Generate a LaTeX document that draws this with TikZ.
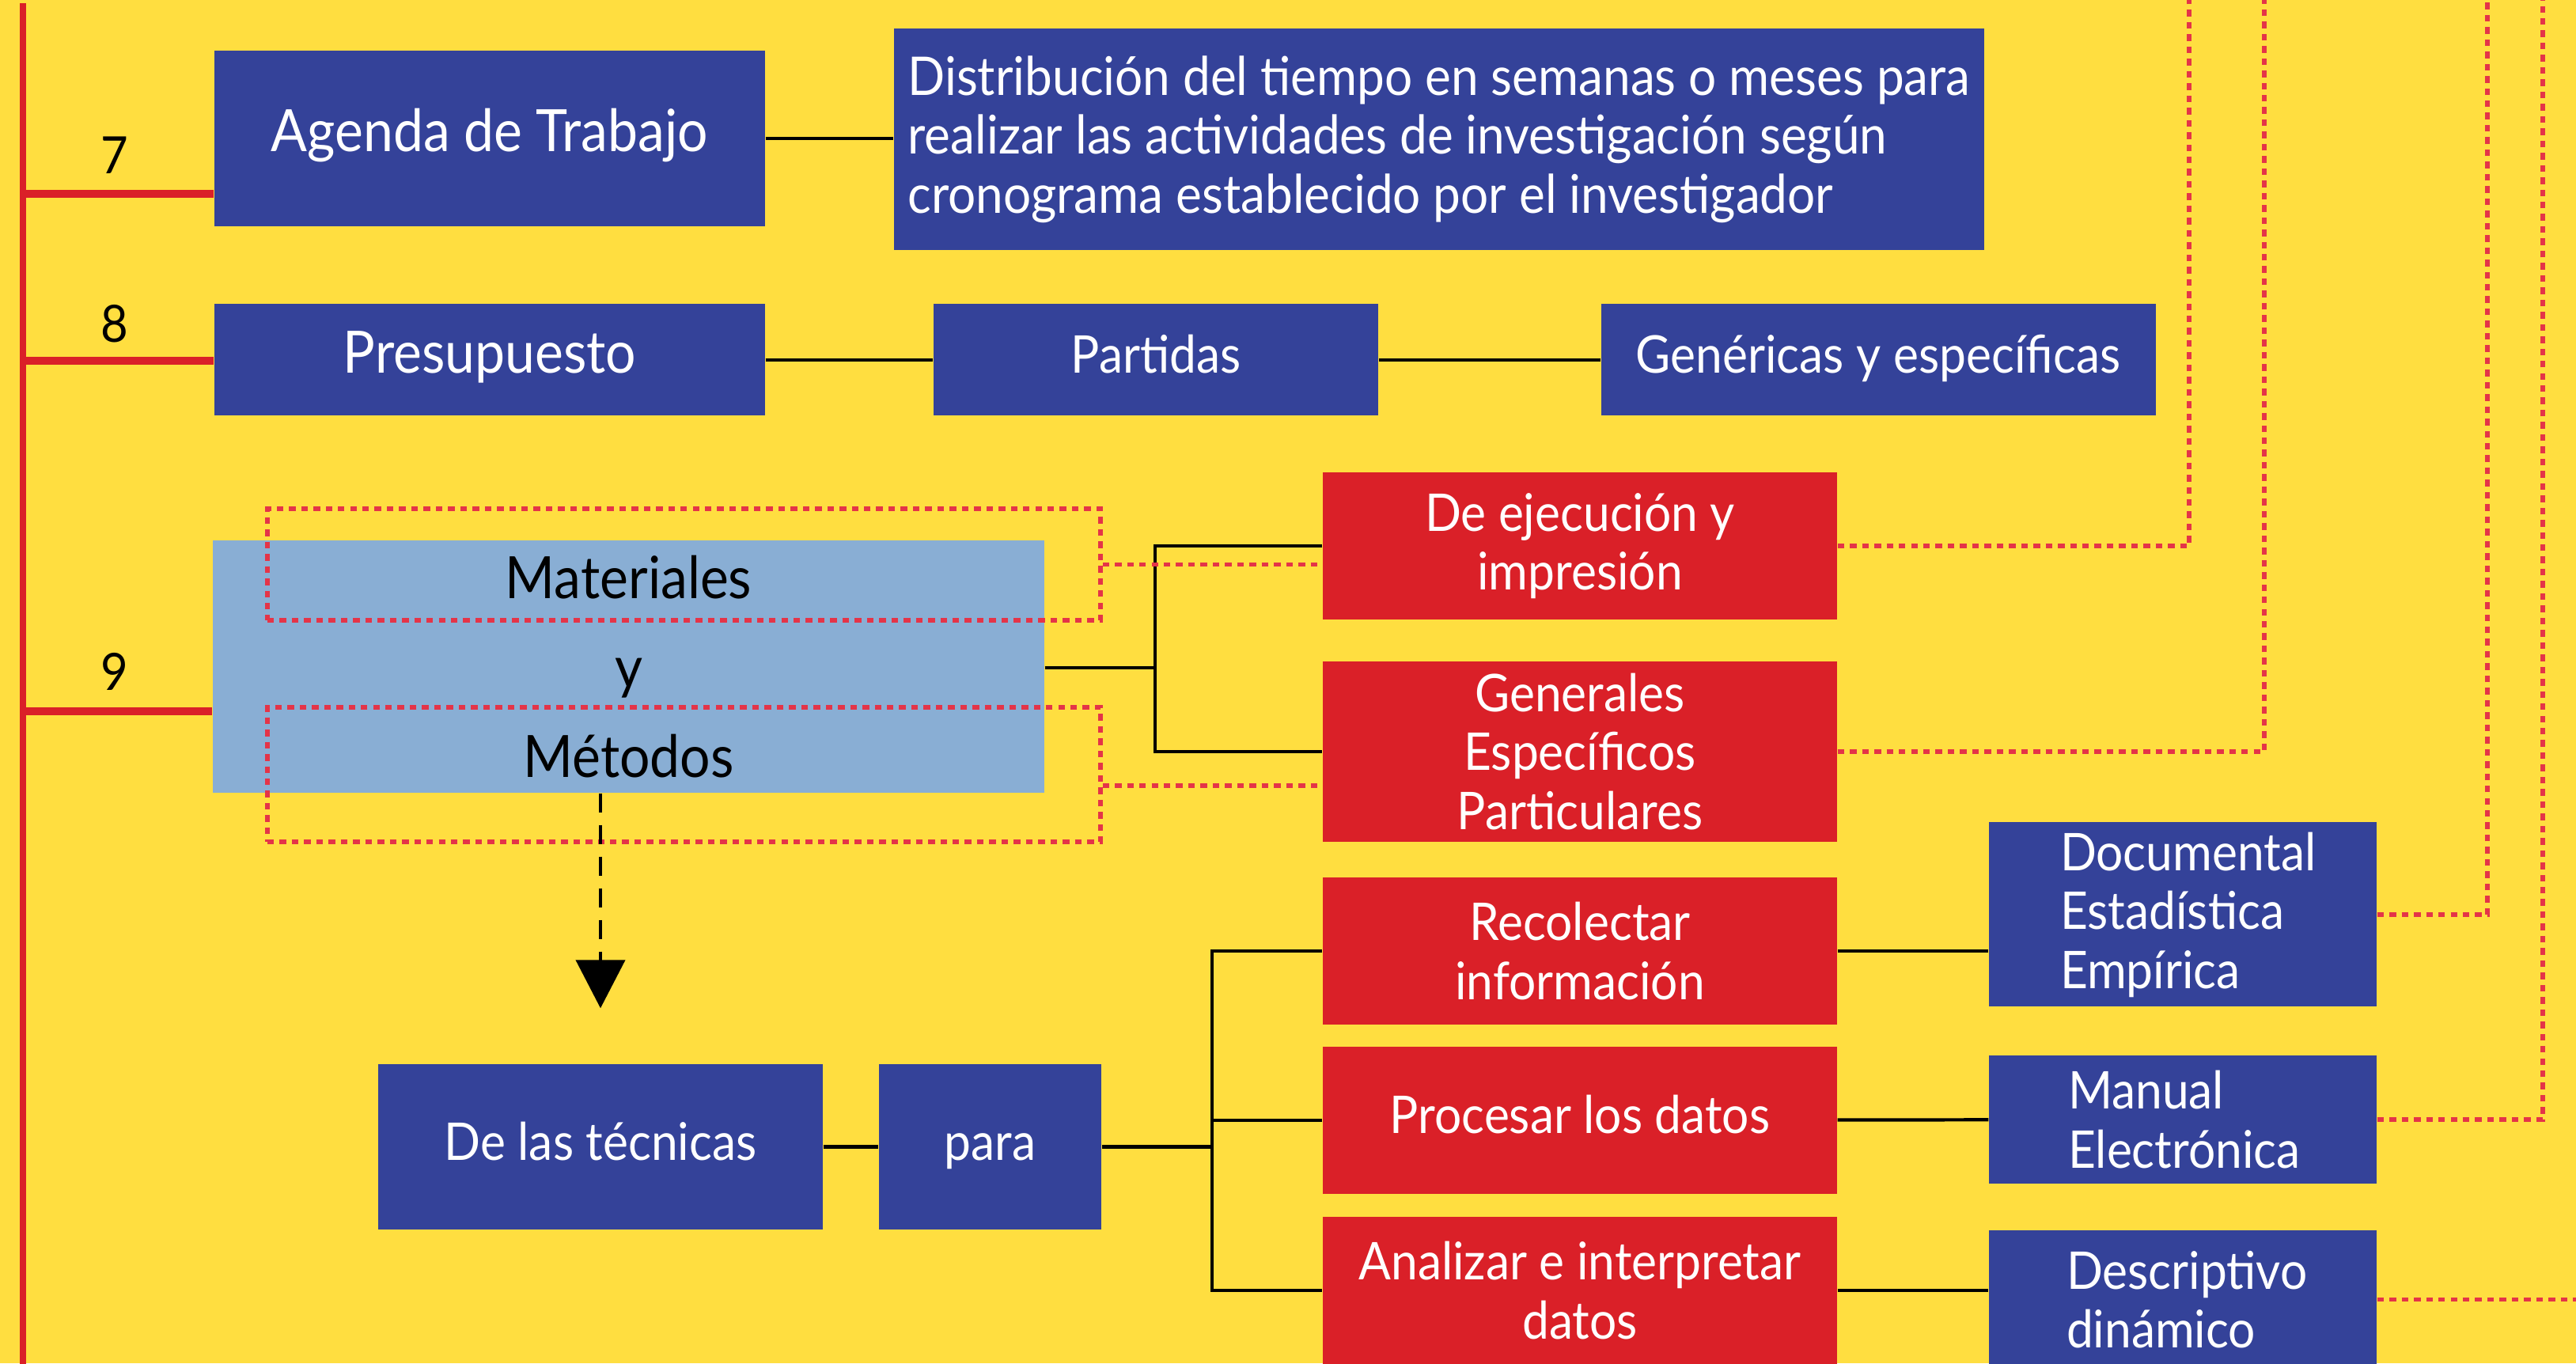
\documentclass[tikz,border=0pt]{standalone}
\usepackage{fontspec}
\setmainfont{Lato}[FakeStretch=0.92]
\usetikzlibrary{arrows.meta}

\definecolor{fondo}{RGB}{255,222,64}
\definecolor{azul}{RGB}{52,66,153}
\definecolor{rojo}{RGB}{218,32,40}
\definecolor{celeste}{RGB}{137,174,212}
\definecolor{rosa}{RGB}{228,52,72}

\begin{document}
\begin{tikzpicture}[
	caja/.style={inner sep=0pt, align=center, text=white, font=\fontsize{18.7}{21.2}\selectfont},
	azulbox/.style={caja, fill=azul},
	rojobox/.style={caja, fill=rojo},
	titulo/.style={caja, fill=azul, font=\fontsize{21}{25}\selectfont},
	unalinea/.style={text height=14pt, text depth=4.4pt},
	tam/.style 2 args={minimum width=#1cm, minimum height=#2cm},
	linea/.style={line width=1.2pt},
	puntos/.style={rosa, line width=1.5pt, dash pattern=on 2.4pt off 2pt},
	num/.style={font=\fontsize{18.5}{22}\selectfont}
	]
			\useasboundingbox (0,0) rectangle (32.56,17.23);
			\fill[fondo] (0,0) rectangle (32.56,17.23);
			\clip (0,0) rectangle (32.56,17.23);
			
			%%%filas 7 y 8
			\node[titulo, unalinea, tam={6.96}{2.22}] (agenda) at (6.19,15.48) {Agenda de Trabajo};
			\node[azulbox, tam={13.78}{2.80}, align=left, font=\fontsize{19.2}{21.2}\selectfont] (dist) at (18.19,15.47)
				{Distribución del tiempo en semanas o meses para\\realizar las actividades de investigación según\\cronograma establecido por el investigador};
			\node[titulo, unalinea, tam={6.96}{1.41}] (presu) at (6.19,12.68) {Presupuesto};
			\node[azulbox, unalinea, tam={5.62}{1.41}] (partidas) at (14.61,12.68) {Partidas};
			\node[azulbox, unalinea, tam={7.01}{1.41}] (genericas) at (23.74,12.68) {Genéricas y específicas};
			
			%%%fila 9
			\node[caja, fill=celeste, text=black, tam={10.51}{3.19}, font=\fontsize{21}{32.1}\selectfont] (matmet) at (7.945,8.805)
				{Materiales\\y\\Métodos};
			\node[draw, puntos, tam={10.53}{1.41}] (matbox) at (8.645,10.095) {};
			\node[draw, puntos, tam={10.53}{1.70}] (metbox) at (8.645,7.44) {};
			
			\node[rojobox, tam={6.50}{1.86}] (ejec) at (19.97,10.33) {De ejecución y\\impresión};
			\node[rojobox, tam={6.50}{2.28}] (gener) at (19.97,7.73) {Generales\\Específicos\\Particulares};
			\node[rojobox, tam={6.50}{1.86}] (recol) at (19.97,5.21) {Recolectar\\información};
			\node[rojobox, unalinea, tam={6.50}{1.86}] (proces) at (19.97,3.07) {Procesar los datos};
			\node[rojobox, tam={6.50}{1.86}] (analiz) at (19.97,0.92) {Analizar e interpretar\\datos};
			
			\node[azulbox, tam={4.90}{2.33}, align=left, text width=3.1cm] (docum) at (27.59,5.67) {Documental\\Estadística\\Empírica};
			\node[azulbox, tam={4.90}{1.62}, align=left, text width=2.9cm] (manual) at (27.59,3.08) {Manual\\Electrónica};
			\node[azulbox, tam={4.90}{1.75}, align=left, text width=2.94cm] (descr) at (27.59,0.805) {Descriptivo\\dinámico};
			
			\node[azulbox, unalinea, tam={5.62}{2.09}] (tecnicas) at (7.59,2.735) {De las técnicas};
			\node[azulbox, unalinea, tam={2.81}{2.09}] (para) at (12.515,2.735) {para};
			
			%%puntos libres
			\coordinate (j1) at (14.60,8.79);
			\coordinate (j2) at (15.32,2.735);
			\coordinate (s1) at (0.29,17.19);
			\coordinate (s2) at (0.29,-0.1);
			\coordinate (t1) at (27.67,17.5);
			\coordinate (t2) at (28.62,17.5);
			\coordinate (t3) at (31.44,17.5);
			\coordinate (t4) at (32.14,17.5);
			\coordinate (t5) at (32.7,0.805);
			
			%%lineas negras
			\draw[linea] (agenda.east) -- (agenda.east -| dist.west);
			\draw[linea] (presu) -- (partidas) -- (genericas);
			\draw[linea] (matmet.east |- j1) -- (j1);
			\draw[linea] (ejec.west) -| (j1 |- gener.west) -- (gener.west);
			\draw[linea] (tecnicas) -- (para);
			\draw[linea] (para.east) -- (j2);
			\draw[linea] (recol.west) -| (j2 |- analiz.west) -- (analiz.west);
			\draw[linea] (proces.west) -- (proces.west -| j2);
			\draw[linea] (recol.east) -- (recol.east -| docum.west);
			\draw[linea] (proces) -- (manual);
			\draw[linea] (analiz.east) -- (analiz.east -| descr.west);
			\draw[linea, dash pattern=on 0.24cm off 0.16cm, -{Triangle[length=0.61cm,width=0.62cm]}]
				(tecnicas.north |- matmet.south) -- ([yshift=0.7cm]tecnicas.north);
			
			%%punteadas
			\draw[puntos] (matbox.east) -- (matbox.east -| ejec.west);
			\draw[puntos] ([yshift=-0.14cm]metbox.east) -- ([yshift=-0.14cm]metbox.east -| gener.west);
			\draw[puntos] (ejec.east) -| (t1);
			\draw[puntos] (gener.east) -| (t2);
			\draw[puntos] (docum.east) -| (t3);
			\draw[puntos] (manual.east) -| (t4);
			\draw[puntos] (descr.east) -- (t5);
			
			%%eje rojo
			\draw[rojo, line width=2.4pt] (s1) -- (s2);
			\foreach \b/\yy in {agenda/14.78, presu/12.67, matmet/8.24}
			{
				\draw[rojo, line width=3pt] (s1 |- 0,\yy) -- (\b.west |- 0,\yy);
			}
			\foreach \n/\yy in {7/15.27, 8/13.14, 9/8.74}
			{
				\node[num] (n\n) at (1.45,\yy) {\n};
			}
		\end{tikzpicture}
\end{document}
